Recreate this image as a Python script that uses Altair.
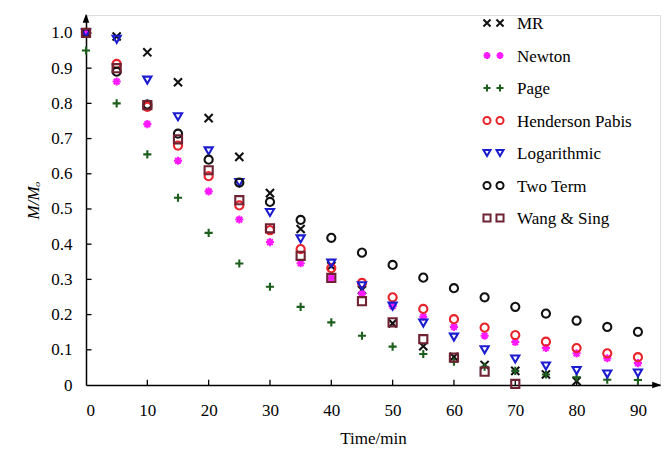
import altair as alt
import pandas as pd

# ---------------- data ----------------
times = [0, 5, 10, 15, 20, 25, 30, 35, 40, 45, 50, 55, 60, 65, 70, 75, 80, 85, 90]
series_names = ["MR", "Newton", "Page", "Henderson Pabis", "Logarithmic", "Two Term", "Wang & Sing"]

mr = [1.0, 0.99, 0.945, 0.86, 0.758, 0.648, 0.545, 0.443, 0.338, 0.27, 0.175, 0.11, 0.08, 0.057, 0.04, 0.03, 0.011, None, None]
newton = [1.0, 0.862, 0.741, 0.637, 0.55, 0.47, 0.406, 0.346, 0.304, 0.259, 0.224, 0.194, 0.165, 0.14, 0.122, 0.105, 0.09, 0.076, 0.062]
page = [0.95, 0.80, 0.655, 0.532, 0.432, 0.345, 0.279, 0.222, 0.178, 0.14, 0.109, 0.088, 0.066, 0.052, 0.04, 0.03, 0.022, 0.015, 0.014]
henderson = [1.0, 0.912, 0.79, 0.68, 0.593, 0.51, 0.44, 0.386, 0.332, 0.29, 0.249, 0.216, 0.187, 0.163, 0.142, 0.123, 0.105, 0.09, 0.079]
logarithmic = [1.0, 0.982, 0.866, 0.762, 0.665, 0.575, 0.49, 0.415, 0.346, 0.282, 0.224, 0.176, 0.136, 0.1, 0.074, 0.054, 0.041, 0.031, 0.034]
two_term = [1.0, 0.89, 0.797, 0.714, 0.64, 0.575, 0.52, 0.469, 0.418, 0.376, 0.341, 0.305, 0.275, 0.249, 0.222, 0.203, 0.183, 0.165, 0.151]
wang_sing = [1.0, 0.9, 0.795, 0.698, 0.61, 0.525, 0.445, 0.367, 0.304, 0.238, 0.178, 0.13, 0.078, 0.038, 0.003, None, None, None, None]

x_ticks = [0, 10, 20, 30, 40, 50, 60, 70, 80, 90]
y_ticks = [0, 0.1, 0.2, 0.3, 0.4, 0.5, 0.6, 0.7, 0.8, 0.9, 1.0]

colors = ["#111111", "#FF19FF", "#1C5E1C", "#E8232B", "#1B1BD0", "#111111", "#6E2232"]

shapes = [
    "M-1,-1L1,1M-1,1L1,-1",
    "M-1,0L1,0M0,-1L0,1M-0.7,-0.7L0.7,0.7M-0.7,0.7L0.7,-0.7",
    "M-1,0L1,0M0,-1L0,1",
    "circle",
    "triangle-down",
    "circle",
    "square",
]

# ---------------- table ----------------
rows = []
for name, vals in zip(series_names, [mr, newton, page, henderson, logarithmic, two_term, wang_sing]):
    for t, v in zip(times, vals):
        if v is not None:
            rows.append({"t": t, "v": v, "series": name})
df = pd.DataFrame(rows)
leg_df = pd.DataFrame({"series": series_names})

X_MAX = 93.6
Y_MAX = 1.051
TICK_LEN_X = 0.9    # inward tick length in x units (~5 px)
TICK_LEN_Y = 0.015  # inward tick length in y units (~5 px)
FONT = "Liberation Serif"

xscale = alt.Scale(domain=[0, X_MAX], nice=False, zero=False)
yscale = alt.Scale(domain=[0, Y_MAX], nice=False, zero=False)
cscale = alt.Scale(domain=series_names, range=colors)
sscale = alt.Scale(domain=series_names, range=shapes)

xaxis = alt.Axis(values=x_ticks, title="Time/min", grid=False, tickSize=0,
                 labelPadding=17, titlePadding=12, domainColor="black",
                 domainWidth=1.5, labelFontSize=17, titleFontSize=17,
                 titleFontWeight="normal", labelColor="black", titleColor="black",
                 labelFont=FONT, titleFont=FONT)

points = alt.Chart(df).mark_point(filled=False, size=66, strokeWidth=2.1, opacity=1).encode(
    x=alt.X("t:Q", scale=xscale, axis=xaxis),
    y=alt.Y("v:Q", scale=yscale,
            axis=alt.Axis(values=y_ticks, title="M/Mₒ", grid=False, tickSize=0,
                          labelPadding=14, titlePadding=8, domainColor="black",
                          domainWidth=1.5, labelFontSize=17, titleFontSize=17,
                          titleFontWeight="normal", titleFontStyle="italic",
                          labelColor="black", titleColor="black",
                          labelFont=FONT, titleFont=FONT,
                          labelExpr="datum.value == 0 ? '0' : format(datum.value, '.1f')")),
    color=alt.Color("series:N", scale=cscale, legend=None),
    shape=alt.Shape("series:N", scale=sscale, legend=None),
)

xt = pd.DataFrame({"xv": x_ticks[1:]})
yt = pd.DataFrame({"yv": y_ticks[1:]})

xtick_layer = alt.Chart(xt).mark_rule(strokeWidth=1.3, color="black").encode(
    x=alt.X("xv:Q", scale=xscale, axis=xaxis),
    y=alt.Y(datum=0, scale=yscale, axis=None),
    y2=alt.Y2(datum=TICK_LEN_Y),
)
ytick_layer = alt.Chart(yt).mark_rule(strokeWidth=1.3, color="black").encode(
    x=alt.X(datum=0, scale=xscale, axis=xaxis),
    x2=alt.X2(datum=TICK_LEN_X),
    y=alt.Y("yv:Q", scale=yscale, axis=None),
)
yarrow = alt.Chart(pd.DataFrame({"a": [0]})).mark_point(
    shape="M0,-0.2L-0.55,1.3L0.55,1.3Z", filled=True, size=144, color="black", opacity=1).encode(
    x=alt.X(datum=0, scale=xscale, axis=xaxis),
    y=alt.Y(datum=Y_MAX, scale=yscale, axis=None),
)
xarrow = alt.Chart(pd.DataFrame({"a": [0]})).mark_point(
    shape="M0.2,0L-1.3,-0.55L-1.3,0.55Z", filled=True, size=144, color="black", opacity=1).encode(
    x=alt.X(datum=X_MAX, scale=xscale, axis=xaxis),
    y=alt.Y(datum=0, scale=yscale, axis=None),
)

# ---------------- legend (double symbols, like the reference) ----------------
leg_y = alt.Y("series:N", scale=alt.Scale(type="point", domain=series_names, range=[8, 203], padding=0), axis=None)
leg_sym1 = alt.Chart(leg_df).mark_point(filled=False, size=50, strokeWidth=2, opacity=1).encode(
    x=alt.value(401), y=leg_y,
    color=alt.Color("series:N", scale=cscale, legend=None),
    shape=alt.Shape("series:N", scale=sscale, legend=None),
)
leg_sym2 = alt.Chart(leg_df).mark_point(filled=False, size=50, strokeWidth=2, opacity=1).encode(
    x=alt.value(414), y=leg_y,
    color=alt.Color("series:N", scale=cscale, legend=None),
    shape=alt.Shape("series:N", scale=sscale, legend=None),
)
leg_text = alt.Chart(leg_df).mark_text(align="left", baseline="middle", font=FONT, fontSize=17,
                                       color="black", dy=1).encode(
    x=alt.value(431), y=leg_y, text="series:N",
)

chart = alt.layer(xtick_layer, ytick_layer, yarrow, xarrow, points, leg_sym1, leg_sym2, leg_text).resolve_scale(
    y="independent"
).properties(
    width=574, height=370,
    autosize="none",
    padding={"left": 78, "top": 7, "right": 2, "bottom": 64},
).configure_view(stroke=None).configure(background="white")

chart.save("out.html", embed_options={"renderer": "svg", "actions": False})
